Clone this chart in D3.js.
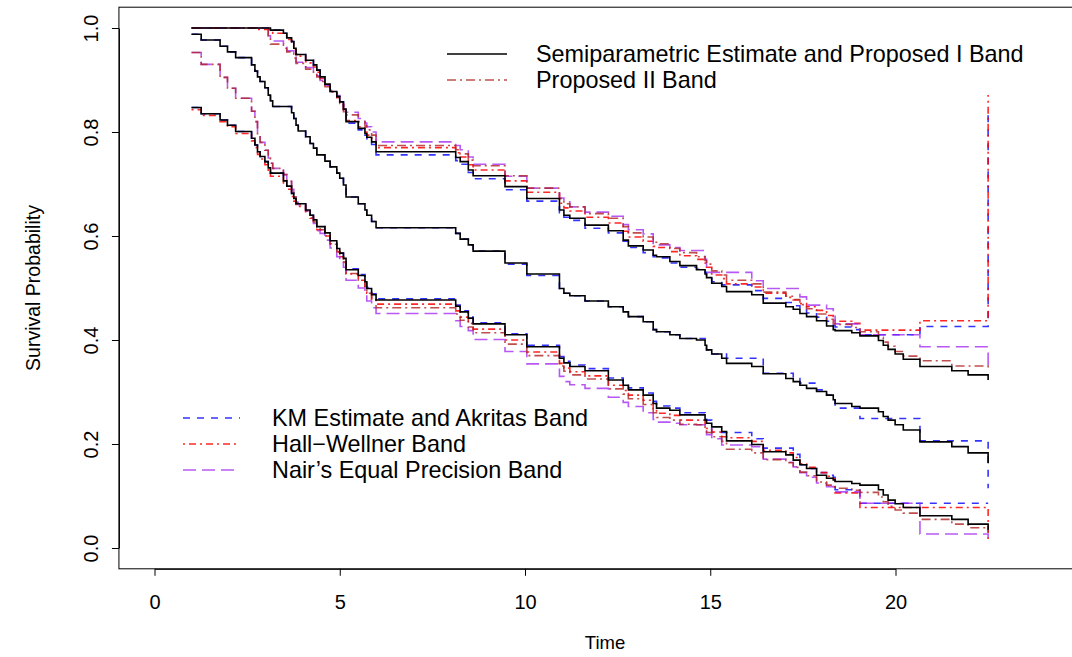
<!DOCTYPE html>
<html><head><meta charset="utf-8">
<script src="https://cdn.jsdelivr.net/npm/d3@7"></script>
<style>body{margin:0;background:#fff}svg{display:block}text{font-family:"Liberation Sans",Arial,Helvetica,sans-serif;fill:#000}</style>
</head><body><svg id="c" width="1072" height="657"></svg>
<script>
const times=[1.00,1.26,1.77,1.97,2.19,2.62,2.71,2.78,2.85,2.98,
 3.07,3.13,3.19,3.48,3.57,3.70,3.76,3.82,3.88,4.08,
 4.20,4.29,4.38,4.47,4.60,4.74,4.92,5.00,5.10,5.17,
 5.50,5.68,5.73,5.86,5.98,8.13,8.25,8.47,8.60,9.46,
 10.05,10.93,11.05,11.21,11.62,12.25,12.65,12.79,13.19,13.46,
 13.55,13.91,14.18,14.63,14.86,14.90,15.04,15.31,15.44,16.12,
 16.43,17.04,17.24,17.42,17.60,17.87,18.14,18.32,18.37,18.82,
 19.04,19.54,19.67,19.80,19.99,20.21,20.66,21.52,21.96,22.50];
const semiEst=[0.988,0.977,0.965,0.954,0.943,0.929,0.917,0.906,0.897,0.885,
 0.871,0.860,0.849,0.849,0.849,0.837,0.826,0.813,0.802,0.791,
 0.778,0.769,0.756,0.756,0.744,0.733,0.721,0.711,0.698,0.675,
 0.662,0.650,0.640,0.628,0.616,0.605,0.594,0.583,0.571,0.548,
 0.527,0.499,0.490,0.485,0.475,0.464,0.454,0.445,0.435,0.420,
 0.416,0.410,0.403,0.400,0.390,0.381,0.373,0.365,0.355,0.349,
 0.335,0.326,0.320,0.313,0.307,0.301,0.294,0.285,0.278,0.272,
 0.269,0.262,0.253,0.246,0.237,0.227,0.204,0.195,0.183,0.163];
const semiUpper=[1.000,1.000,1.000,1.000,1.000,1.000,1.000,1.000,1.000,1.000,
 1.000,0.996,0.996,0.990,0.981,0.974,0.961,0.949,0.949,0.938,
 0.938,0.929,0.919,0.906,0.892,0.878,0.868,0.858,0.844,0.820,
 0.807,0.797,0.790,0.781,0.762,0.751,0.743,0.727,0.716,0.695,
 0.672,0.650,0.640,0.634,0.621,0.610,0.592,0.581,0.573,0.563,
 0.560,0.551,0.543,0.535,0.527,0.520,0.509,0.503,0.493,0.487,
 0.471,0.464,0.459,0.451,0.445,0.437,0.427,0.420,0.418,0.414,
 0.408,0.399,0.390,0.382,0.373,0.363,0.349,0.341,0.333,0.323];
const semiLower=[0.847,0.835,0.823,0.813,0.801,0.788,0.775,0.762,0.753,0.743,
 0.731,0.721,0.721,0.706,0.696,0.682,0.672,0.662,0.662,0.650,
 0.640,0.631,0.618,0.618,0.606,0.591,0.576,0.567,0.557,0.535,
 0.524,0.512,0.499,0.487,0.477,0.465,0.454,0.442,0.431,0.410,
 0.387,0.365,0.356,0.349,0.341,0.323,0.313,0.304,0.294,0.278,
 0.269,0.265,0.256,0.256,0.246,0.240,0.233,0.224,0.206,0.199,
 0.185,0.179,0.169,0.160,0.153,0.140,0.134,0.131,0.128,0.124,
 0.121,0.112,0.102,0.092,0.085,0.078,0.062,0.055,0.046,0.035];
const kmEst=[0.988,0.977,0.965,0.954,0.943,0.929,0.917,0.906,0.897,0.885,
 0.871,0.860,0.849,0.849,0.849,0.837,0.826,0.813,0.802,0.791,
 0.778,0.769,0.756,0.756,0.744,0.733,0.721,0.711,0.698,0.675,
 0.662,0.650,0.640,0.628,0.616,0.605,0.594,0.583,0.571,0.546,
 0.524,0.499,0.490,0.485,0.475,0.464,0.454,0.445,0.435,0.420,
 0.416,0.410,0.403,0.403,0.392,0.381,0.373,0.373,0.365,0.365,
 0.336,0.336,0.326,0.317,0.317,0.304,0.294,0.285,0.269,0.269,
 0.249,0.249,0.249,0.249,0.249,0.249,0.206,0.206,0.206,0.115];
const kmUpper=[1.000,1.000,1.000,1.000,1.000,1.000,1.000,1.000,1.000,1.000,
 1.000,0.996,0.996,0.990,0.981,0.974,0.961,0.949,0.949,0.938,
 0.938,0.929,0.919,0.906,0.892,0.878,0.868,0.858,0.844,0.817,
 0.804,0.794,0.787,0.776,0.756,0.745,0.738,0.722,0.710,0.689,
 0.667,0.645,0.636,0.630,0.615,0.606,0.590,0.578,0.568,0.560,
 0.558,0.548,0.540,0.536,0.530,0.522,0.512,0.506,0.506,0.495,
 0.480,0.472,0.466,0.458,0.452,0.444,0.436,0.428,0.425,0.420,
 0.410,0.410,0.410,0.410,0.410,0.410,0.426,0.426,0.426,0.840];
const kmLower=[0.847,0.835,0.823,0.813,0.801,0.788,0.775,0.762,0.753,0.743,
 0.731,0.721,0.721,0.706,0.696,0.682,0.672,0.662,0.662,0.650,
 0.640,0.631,0.618,0.618,0.606,0.591,0.576,0.567,0.557,0.537,
 0.526,0.514,0.501,0.489,0.479,0.467,0.456,0.444,0.433,0.412,
 0.390,0.368,0.359,0.352,0.345,0.327,0.317,0.308,0.298,0.282,
 0.273,0.269,0.260,0.260,0.250,0.246,0.222,0.222,0.222,0.210,
 0.192,0.192,0.180,0.160,0.153,0.145,0.140,0.136,0.112,0.112,
 0.086,0.086,0.086,0.086,0.086,0.086,0.086,0.086,0.086,0.086];
const hwUpper=[1.000,1.000,1.000,1.000,1.000,1.000,1.000,0.997,0.997,0.997,
 0.997,0.993,0.990,0.985,0.978,0.970,0.958,0.946,0.946,0.935,
 0.933,0.925,0.915,0.903,0.890,0.877,0.866,0.856,0.843,0.822,
 0.810,0.800,0.794,0.786,0.770,0.760,0.752,0.737,0.727,0.706,
 0.684,0.663,0.654,0.648,0.636,0.625,0.609,0.598,0.590,0.580,
 0.578,0.570,0.562,0.555,0.548,0.540,0.525,0.518,0.508,0.502,
 0.490,0.482,0.477,0.470,0.464,0.457,0.447,0.440,0.436,0.432,
 0.419,0.419,0.419,0.419,0.419,0.419,0.437,0.437,0.437,0.871];
const hwLower=[0.843,0.832,0.820,0.810,0.797,0.783,0.770,0.757,0.748,0.737,
 0.725,0.715,0.715,0.700,0.690,0.676,0.667,0.657,0.657,0.645,
 0.634,0.625,0.612,0.612,0.600,0.584,0.569,0.560,0.549,0.527,
 0.515,0.503,0.490,0.478,0.469,0.456,0.444,0.432,0.421,0.400,
 0.377,0.355,0.346,0.339,0.331,0.313,0.303,0.294,0.284,0.268,
 0.259,0.255,0.246,0.246,0.236,0.230,0.223,0.214,0.212,0.205,
 0.188,0.183,0.174,0.162,0.155,0.145,0.138,0.133,0.106,0.106,
 0.078,0.078,0.078,0.078,0.078,0.078,0.078,0.078,0.078,0.015];
const propUpper=[1.000,1.000,1.000,1.000,1.000,1.000,1.000,1.000,1.000,1.000,
 0.985,0.969,0.969,0.961,0.954,0.954,0.942,0.932,0.932,0.921,
 0.921,0.915,0.906,0.897,0.887,0.878,0.868,0.855,0.839,0.833,
 0.820,0.812,0.804,0.794,0.774,0.766,0.758,0.746,0.735,0.716,
 0.692,0.672,0.662,0.656,0.643,0.634,0.618,0.606,0.598,0.588,
 0.585,0.576,0.568,0.560,0.553,0.546,0.533,0.525,0.515,0.508,
 0.492,0.484,0.478,0.468,0.460,0.450,0.440,0.432,0.430,0.424,
 0.416,0.405,0.396,0.388,0.378,0.369,0.360,0.350,0.350,0.345];
const propLower=[0.953,0.930,0.905,0.884,0.865,0.840,0.820,0.795,0.780,0.765,
 0.750,0.740,0.730,0.718,0.705,0.690,0.675,0.665,0.660,0.648,
 0.637,0.627,0.614,0.612,0.600,0.585,0.570,0.560,0.550,0.528,
 0.515,0.503,0.490,0.477,0.462,0.450,0.438,0.425,0.414,0.392,
 0.370,0.350,0.340,0.333,0.325,0.306,0.296,0.287,0.276,0.260,
 0.251,0.246,0.238,0.237,0.227,0.222,0.214,0.205,0.190,0.183,
 0.170,0.164,0.155,0.146,0.139,0.127,0.121,0.118,0.115,0.111,
 0.107,0.098,0.089,0.080,0.073,0.067,0.055,0.046,0.039,0.030];
const nairUpper=[1.000,1.000,1.000,1.000,1.000,1.000,1.000,1.000,1.000,1.000,
 0.985,0.975,0.975,0.963,0.956,0.956,0.944,0.934,0.934,0.924,
 0.924,0.917,0.908,0.899,0.890,0.880,0.870,0.858,0.843,0.838,
 0.826,0.817,0.810,0.800,0.781,0.774,0.766,0.752,0.738,0.715,
 0.692,0.673,0.666,0.656,0.646,0.638,0.622,0.612,0.604,0.583,
 0.583,0.578,0.572,0.572,0.555,0.530,0.530,0.530,0.530,0.514,
 0.499,0.499,0.499,0.483,0.467,0.467,0.460,0.450,0.431,0.431,
 0.410,0.410,0.410,0.410,0.410,0.410,0.387,0.387,0.387,0.350];
const nairLower=[0.953,0.930,0.905,0.884,0.865,0.840,0.820,0.795,0.780,0.765,
 0.750,0.740,0.730,0.718,0.705,0.690,0.675,0.665,0.660,0.648,
 0.635,0.624,0.610,0.605,0.592,0.577,0.560,0.550,0.540,0.515,
 0.500,0.488,0.475,0.462,0.451,0.437,0.426,0.418,0.401,0.378,
 0.354,0.330,0.320,0.314,0.307,0.290,0.280,0.272,0.260,0.247,
 0.242,0.240,0.237,0.237,0.225,0.218,0.210,0.198,0.198,0.195,
 0.171,0.165,0.156,0.145,0.136,0.125,0.118,0.112,0.108,0.108,
 0.086,0.086,0.086,0.086,0.086,0.086,0.027,0.027,0.027,0.020];

const xTicks=[0,5,10,15,20];
const yTicks=[0,0.2,0.4,0.6,0.8,1.0];
const legendTop=["Semiparametric Estimate and Proposed I Band","Proposed II Band"];
const legendBottom=["KM Estimate and Akritas Band","Hall\u2212Wellner Band","Nair\u2019s Equal Precision Band"];

const styles={
  semi:{color:"#000000",dash:null,op:1},
  prop:{color:"#b22222",dash:"9,4,2,4",op:0.8},
  km:{color:"#0000ff",dash:"7,7",op:0.8},
  hw:{color:"#ff0000",dash:"2,4,7,4",op:0.85},
  nair:{color:"#a020f0",dash:"13,6",op:0.75}
};

const svg=d3.select("#c");
svg.append("rect").attr("width",1072).attr("height",657).attr("fill","#fff");
const x=d3.scaleLinear().domain([0,20]).range([154.5,895.5]);
const y=d3.scaleLinear().domain([0,1]).range([548,28]);
const box={l:x(-0.96),r:x(24.96),t:y(1.04),b:y(-0.04)};

svg.append("defs").append("clipPath").attr("id","clip").append("rect")
  .attr("x",box.l).attr("y",box.t).attr("width",box.r-box.l).attr("height",box.b-box.t);

const line=d3.line().x((d,i)=>x(times[i])).y(d=>y(d)).curve(d3.curveStepAfter);
const plot=svg.append("g").attr("clip-path","url(#clip)");
const series=[
  [kmEst,"km"],[kmUpper,"km"],[kmLower,"km"],
  [hwUpper,"hw"],[hwLower,"hw"],
  [nairUpper,"nair"],[nairLower,"nair"],
  [propUpper,"prop"],[propLower,"prop"],
  [semiEst,"semi"],[semiUpper,"semi"],[semiLower,"semi"]
];
series.forEach(([vals,k])=>{
  const s=styles[k];
  plot.append("path").datum(vals).attr("d",line).attr("fill","none")
    .attr("stroke",s.color).attr("stroke-opacity",s.op).attr("stroke-width",1.6)
    .attr("stroke-dasharray",s.dash);
});

svg.append("rect").attr("x",box.l).attr("y",box.t).attr("width",box.r-box.l).attr("height",box.b-box.t)
  .attr("fill","none").attr("stroke","#000").attr("stroke-width",1);

const gx=svg.append("g").attr("transform",`translate(0,${box.b})`)
  .call(d3.axisBottom(x).tickValues(xTicks).tickSize(7).tickPadding(19).tickSizeOuter(0).tickFormat(d3.format("d")));
gx.attr("font-family",null).attr("font-size",null);
gx.selectAll("text").style("font-size","20px");
gx.selectAll("path,line").attr("stroke","#000");

const gy=svg.append("g").attr("transform",`translate(${box.l},0)`)
  .call(d3.axisLeft(y).tickValues(yTicks).tickSize(7).tickSizeOuter(0).tickFormat(d3.format(".1f")));
gy.attr("font-family",null).attr("font-size",null);
gy.selectAll("path,line").attr("stroke","#000");
gy.selectAll(".tick text").attr("x",0).attr("y",-21).attr("dy","0").attr("text-anchor","middle")
  .attr("transform","rotate(-90)").style("font-size","20px");

svg.append("text").attr("x",605).attr("y",649).attr("text-anchor","middle").style("font-size","18.5px").text("Time");
svg.append("text").attr("transform",`translate(40,${(box.t+box.b)/2}) rotate(-90)`).attr("text-anchor","middle")
  .style("font-size","19.5px").text("Survival Probability");

function legend(items,keys,x0,x1,tx,ys){
  items.forEach((t,i)=>{
    const s=styles[keys[i]];
    svg.append("line").attr("x1",x0).attr("x2",x1).attr("y1",ys[i]).attr("y2",ys[i])
      .attr("stroke",s.color).attr("stroke-opacity",s.op).attr("stroke-width",1.6).attr("stroke-dasharray",s.dash);
    svg.append("text").attr("x",tx).attr("y",ys[i]).attr("dy","0.36em").style("font-size","23.4px").text(t);
  });
}
legend(legendTop,["semi","prop"],447,507,536,[54,80]);
legend(legendBottom,["km","hw","nair"],183,240,272,[418,444,470]);
</script></body></html>
